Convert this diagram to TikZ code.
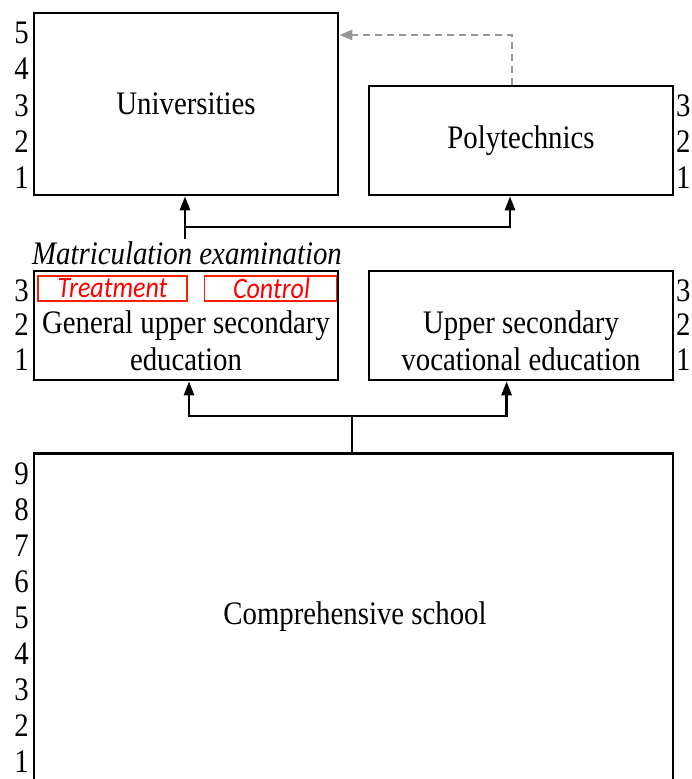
\documentclass[tikz,border=0pt]{standalone}
\usepackage{fontspec}
\usepackage{graphicx}
\setmainfont{Liberation Serif}
\newfontfamily\calib{Carlito}
\usetikzlibrary{arrows.meta}
\newcommand{\mystretch}[1]{\scalebox{1}[1.14]{#1}}
\newcommand{\twolines}[2]{\mystretch{\begin{tabular}{@{}c@{}}#1\\#2\end{tabular}}}
\begin{document}
\begin{tikzpicture}[x=1pt,y=-1pt,
  box/.style={draw, line width=2.6pt, minimum width=304pt, inner sep=0pt, font=\fontsize{28.8}{32.5}\selectfont},
  lbl/.style={inner sep=0pt, align=center, font=\fontsize{28.8}{32.5}\selectfont},
  numl/.style={inner sep=0pt, anchor=east, font=\fontsize{28.8}{32}\selectfont},
  numr/.style={inner sep=0pt, anchor=west, font=\fontsize{28.8}{32}\selectfont},
  redbox/.style={draw={rgb,255:red,255;green,30;blue,0}, line width=1.6pt, minimum height=25pt, inner sep=0pt, text=red, font=\calib\itshape\fontsize{26}{30}\selectfont},
  arr/.style={line width=2.6pt, line join=miter, -{Triangle[length=14pt,width=10pt]}},
  conn/.style={line width=2.6pt},
  dashg/.style={draw={rgb,255:red,150;green,150;blue,150}, line width=2.3pt, dash pattern=on 7pt off 5pt, -{Triangle[length=13pt,width=10pt]}}]
\useasboundingbox (0,0) rectangle (692,779);
\clip (0,0) rectangle (692,779);

% boxes
\node[box, minimum height=182pt] (univ) at (186,104) {\mystretch{Universities}};
\node[box, minimum height=109pt] (poly) at (521,140.5) {\mystretch{Polytechnics}};
\node[box, minimum height=109pt] (gen) at (186,325.5) {};
\node[box, minimum height=109pt] (voc) at (521,325.5) {};
\node[box, minimum width=639pt, minimum height=500pt, anchor=north] (comp) at (353.5,452) {};

% texts
\node[lbl] (gentxt) at (186,345) {\twolines{General upper secondary}{education}};
\node[lbl] (voctxt) at (521,345) {\twolines{Upper secondary}{vocational education}};
\node[lbl] (comptxt) at (355,617) {\mystretch{Comprehensive school}};
\node[lbl, font=\itshape\fontsize{28.8}{37}\selectfont] (matr) at (187,253) {\mystretch{Matriculation examination}};

% red boxes
\node[redbox, minimum width=149pt] (treat) at (112.5,288.5) {\mystretch{Treatment}};
\node[redbox, minimum width=132pt] (ctrl) at (270.5,288.5) {\mystretch{\hspace{2pt}Control}};

% numbers
\node[numl] (u5) at (29,33) {\mystretch{5}};
\node[numl] (u4) at (29,69) {\mystretch{4}};
\node[numl] (u3) at (29,106) {\mystretch{3}};
\node[numl] (u2) at (29,142) {\mystretch{2}};
\node[numl] (u1) at (29,178) {\mystretch{1}};
\node[numr] (p3) at (676,106) {\mystretch{3}};
\node[numr] (p2) at (676,142) {\mystretch{2}};
\node[numr] (p1) at (676,178) {\mystretch{1}};
\node[numl] (g3) at (29,291) {\mystretch{3}};
\node[numl] (g2) at (29,325) {\mystretch{2}};
\node[numl] (g1) at (29,360) {\mystretch{1}};
\node[numr] (v3) at (676,291) {\mystretch{3}};
\node[numr] (v2) at (676,325) {\mystretch{2}};
\node[numr] (v1) at (676,360) {\mystretch{1}};
\node[numl] (c9) at (29,474) {\mystretch{9}};
\node[numl] (c8) at (29,510) {\mystretch{8}};
\node[numl] (c7) at (29,546) {\mystretch{7}};
\node[numl] (c6) at (29,582) {\mystretch{6}};
\node[numl] (c5) at (29,618) {\mystretch{5}};
\node[numl] (c4) at (29,654) {\mystretch{4}};
\node[numl] (c3) at (29,690) {\mystretch{3}};
\node[numl] (c2) at (29,726) {\mystretch{2}};
\node[numl] (c1) at (29,762) {\mystretch{1}};

% connectors top
\coordinate (ms) at (185,239);
\coordinate (mj) at (185,227);
\coordinate (px) at (510,227);
\draw[arr] (ms) -- (univ.south -| ms);
\draw[arr] (mj) -- (px) -- (poly.south -| px);

% dashed
\coordinate (dx) at (512,35);
\draw[dashg] (poly.north -| dx) |- (univ.east |- dx);

% connectors bottom
\coordinate (cj) at (352,416);
\coordinate (gx) at (189,416);
\coordinate (vx) at (506.6,416);
\draw[conn] (comp.north -| cj) -- (cj);
\draw[arr] (vx) -- (gx) -- (gen.south -| gx);
\draw[arr] (gx) -- (vx) -- (voc.south -| vx);
\end{tikzpicture}
\end{document}
